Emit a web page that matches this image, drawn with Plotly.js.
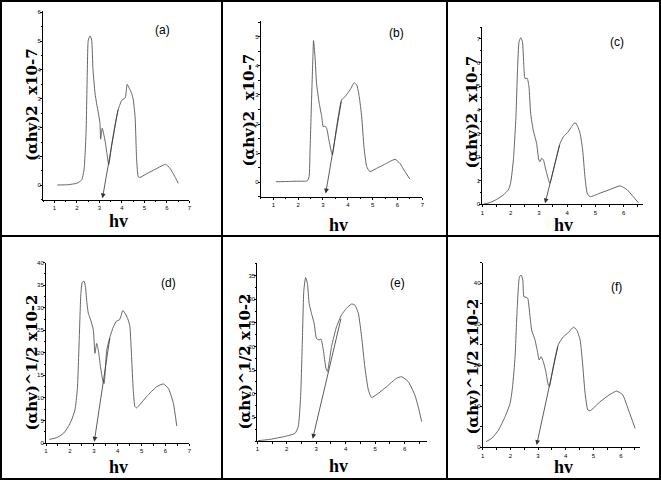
<!DOCTYPE html>
<html><head><meta charset="utf-8">
<script src="https://cdn.plot.ly/plotly-3.0.1.min.js"></script>
<style>html,body{margin:0;padding:0;background:#fff}</style>
</head><body><div id="chart" style="width:661px;height:480px"></div>
<script>
// Panel labels and axis titles
const panelLabels = ["(a)", "(b)", "(c)", "(d)", "(e)", "(f)"];
const yTitleTop = "(αhv)2  x10-7";
const yTitleBottom = "(αhv)^1/2 x10-2";
const xTitle = "hv";

// (a)
const xA = [1.13,1.6,2.0,2.21,2.32,2.41,2.47,2.51,2.59,2.66,2.72,2.81,2.88,2.96,3.03,3.06,3.13,3.25,3.34,3.42,3.55,3.7,3.85,4.0,4.1,4.16,4.24,4.34,4.44,4.51,4.59,4.66,4.73,4.8,5.1,5.5,5.84,5.95,6.14,6.36,6.51];
const yA = [0.01,0.02,0.07,0.18,0.53,1.8,4.1,5.04,5.18,5.04,4.0,3.2,2.84,2.5,2.15,1.6,1.98,1.57,1.1,0.72,1.4,2.1,2.65,2.95,3.0,3.05,3.5,3.35,3.19,2.96,2.38,0.88,0.3,0.27,0.4,0.56,0.7,0.73,0.59,0.3,0.07];
const tanA = {x: [3.84, 3.14], y: [2.67, -0.45]};
// (b)
const xB = [1.11,1.6,2.0,2.37,2.44,2.48,2.54,2.6,2.62,2.68,2.74,2.85,2.95,3.01,3.08,3.15,3.24,3.35,3.38,3.55,3.75,3.89,4.09,4.26,4.36,4.46,4.56,4.65,4.76,4.89,5.16,5.56,5.9,6.1,6.3,6.5];
const yB = [0.02,0.03,0.04,0.05,0.19,1.11,2.83,4.43,4.86,4.31,3.4,2.71,2.25,1.91,1.93,1.85,1.45,1.0,0.94,1.91,2.83,2.94,3.17,3.42,3.34,2.94,2.25,1.22,0.54,0.37,0.48,0.65,0.79,0.65,0.37,0.11];
const tanB = {x: [3.75, 3.11], y: [2.83, -0.38]};
// (c)
const xC = [1.04,1.27,1.51,1.74,1.92,2.0,2.1,2.19,2.25,2.3,2.36,2.42,2.47,2.51,2.59,2.65,2.71,2.8,2.92,3.0,3.04,3.1,3.16,3.25,3.36,3.39,3.57,3.75,3.87,4.04,4.16,4.28,4.37,4.46,4.55,4.63,4.71,4.81,5.16,5.52,5.87,6.11,6.34,6.52];
const yC = [0.01,0.07,0.21,0.39,0.61,0.89,1.88,3.71,5.83,6.88,7.05,6.88,5.83,5.33,5.33,4.98,3.85,3.15,2.58,1.88,1.8,1.95,1.88,1.45,0.96,0.89,1.73,2.58,2.86,3.07,3.29,3.46,3.31,3.0,2.3,1.17,0.47,0.32,0.47,0.63,0.78,0.63,0.32,0.07];
const tanC = {x: [3.75, 3.22], y: [2.58, 0.04]};
// (d)
const xD = [1.14,1.45,1.73,1.93,2.07,2.21,2.31,2.39,2.46,2.52,2.59,2.65,2.7,2.77,2.87,2.98,3.05,3.12,3.19,3.26,3.37,3.43,3.54,3.68,3.82,3.96,4.07,4.14,4.21,4.35,4.44,4.51,4.58,4.65,4.72,4.79,5.21,5.63,5.91,6.12,6.33,6.47];
const yD = [0.81,1.18,2.14,3.62,5.1,7.3,11.8,22.9,33.2,35.7,35.9,34.7,31.7,28.8,27.3,25.1,19.9,22.1,20.6,17.7,14.0,13.2,20.6,23.6,25.8,27.1,27.3,28.2,29.4,28.4,27.3,25.8,19.2,11.8,8.1,7.8,10.3,12.5,13.1,12.1,8.8,3.8];
const tanD = {x: [3.68, 3.02], y: [23.6, 0.3]};
// (e)
const xE = [1.03,1.43,2.0,2.28,2.39,2.47,2.53,2.58,2.64,2.7,2.76,2.84,2.93,3.01,3.1,3.16,3.24,3.33,3.38,3.52,3.69,3.86,4.03,4.2,4.31,4.43,4.54,4.65,4.77,4.88,5.11,5.39,5.73,5.9,6.12,6.35,6.46,6.58];
const yE = [0.07,0.35,1.06,1.62,3.03,9.38,21.4,31.9,34.6,33.4,29.1,27.0,24.9,21.7,21.4,21.6,19.3,15.4,14.7,20.0,24.2,26.7,28.1,29.0,28.8,27.0,22.1,15.7,10.8,9.2,10.1,11.5,13.3,13.6,12.6,9.7,7.3,4.1];
const tanE = {x: [3.85, 2.88], y: [26.2, 0.5]};
// (f)
const xF = [1.12,1.33,1.57,1.81,1.99,2.08,2.17,2.25,2.33,2.39,2.45,2.49,2.57,2.63,2.71,2.77,2.89,2.98,3.04,3.11,3.19,3.28,3.37,3.41,3.55,3.73,3.92,4.1,4.28,4.4,4.52,4.61,4.7,4.8,4.88,5.24,5.6,5.84,6.06,6.27,6.51];
const yF = [1.38,2.2,4.2,7.5,10.7,14.8,22.1,34.3,41.6,42.0,40.8,36.7,36.6,36.3,31.9,28.6,26.2,23.3,21.3,22.1,20.9,18.5,15.2,14.8,19.7,25.0,27.0,28.0,29.3,28.6,26.2,20.5,13.2,9.1,8.9,11.1,12.9,13.7,12.8,9.1,4.6];
const tanF = {x: [3.73, 2.95], y: [25.0, 0.57]};

// tick values
const xTicks7 = [1,2,3,4,5,6,7];
const xTicks6 = [1,2,3,4,5,6];
const yTicksA = [0,1,2,3,4,5,6];
const yTicksB = [0,1,2,3,4,5];
const yTicksC = [0,1,2,3,4,5,6,7];
const yTicksD = [0,5,10,15,20,25,30,35,40];
const yTicksE = [5,10,15,20,25,30,35];
const yTicksF = [0,10,20,30,40];

const W = 661, H = 480;
const px = v => v / W, py = v => 1 - v / H;

const panels = [
  {x: xA, y: yA, tan: tanA, xr: [0.5, 7], yr: [-0.5, 6.05], xt: xTicks7, yt: yTicksA, dom: [43.05, 189.3, 10.9, 199.7], lab: [162, 30], yt_pos: [32, 105], xt_pos: [118, 221], ytitle: yTitleTop, ymin: 0.5},
  {x: xB, y: yB, tan: tanB, xr: [0.5, 7], yr: [-0.5, 5.55], xt: xTicks7, yt: yTicksB, dom: [260.9, 422.3, 20.6, 196.9], lab: [396, 33], yt_pos: [248.5, 110], xt_pos: [338, 225], ytitle: yTitleTop, ymin: 0.5},
  {x: xC, y: yC, tan: tanC, xr: [1, 6.67], yr: [0, 7.5], xt: xTicks6, yt: yTicksC, dom: [482.3, 642.6, 27.1, 204.3], lab: [617, 42], yt_pos: [471.5, 112], xt_pos: [563, 225], ytitle: yTitleTop, ymin: 0.5},
  {x: xD, y: yD, tan: tanD, xr: [1, 7], yr: [0, 40], xt: xTicks7, yt: yTicksD, dom: [46, 189.4, 262.7, 443], lab: [168, 283], yt_pos: [31.5, 363], xt_pos: [118, 467], ytitle: yTitleBottom, ymin: 2.5},
  {x: xE, y: yE, tan: tanE, xr: [1, 6.75], yr: [0, 37.6], xt: xTicks6, yt: yTicksE, dom: [257.3, 426.7, 263.4, 441], lab: [397, 283], yt_pos: [244.5, 362], xt_pos: [338, 466], ytitle: yTitleBottom, ymin: 2.5},
  {x: xF, y: yF, tan: tanF, xr: [1, 6.7], yr: [0, 45], xt: xTicks6, yt: yTicksF, dom: [482.7, 640.4, 262.8, 447.3], lab: [616, 287], yt_pos: [472.5, 367], xt_pos: [563, 467], ytitle: yTitleBottom, ymin: 5}
];

const data = [];
const layout = {
  width: W, height: H, margin: {l: 0, r: 0, t: 0, b: 0},
  paper_bgcolor: '#fff', plot_bgcolor: 'rgba(0,0,0,0)', showlegend: false,
  annotations: [], shapes: []
};

const tickFont = {family: 'Liberation Sans Narrow, Arial, Liberation Sans, sans-serif', size: 6, color: '#000'};
const titleFamily = 'DejaVu Serif, Times New Roman, serif';

panels.forEach((p, i) => {
  const n = i + 1;
  const xa = n === 1 ? 'x' : 'x' + n, ya = n === 1 ? 'y' : 'y' + n;
  data.push({x: p.x, y: p.y, xaxis: xa, yaxis: ya, type: 'scatter', mode: 'lines',
    line: {color: '#555', width: 0.9, shape: 'spline', smoothing: 0.5}, hoverinfo: 'skip'});
  const axBase = {showgrid: false, zeroline: false, showline: true, linecolor: '#000', linewidth: 1,
    ticks: 'outside', ticklen: 2, tickwidth: 1, tickcolor: '#000', tickfont: tickFont, fixedrange: true};
  layout['xaxis' + (n === 1 ? '' : n)] = Object.assign({}, axBase, {
    domain: [px(p.dom[0]), px(p.dom[1])], range: p.xr, anchor: ya,
    tickmode: 'array', tickvals: p.xt, ticktext: p.xt.map(String),
    minor: {dtick: 0.5, ticks: 'outside', ticklen: 1.5, tickcolor: '#000'}
  });
  layout['yaxis' + (n === 1 ? '' : n)] = Object.assign({}, axBase, {
    domain: [py(p.dom[3]), py(p.dom[2])], range: p.yr, anchor: xa,
    tickmode: 'array', tickvals: p.yt, ticktext: p.yt.map(String), ticklabelstandoff: -2,
    minor: {dtick: p.ymin, ticks: 'outside', ticklen: 1.5, tickcolor: '#000'}
  });
  // tangent line with arrowhead at intercept
  layout.annotations.push({xref: xa, yref: ya, axref: xa, ayref: ya,
    x: p.tan.x[1], y: p.tan.y[1], ax: p.tan.x[0], ay: p.tan.y[0],
    text: '', showarrow: true, arrowhead: 2, arrowsize: 1.2, arrowwidth: 0.8, arrowcolor: '#333'});
  // panel label
  layout.annotations.push({xref: 'paper', yref: 'paper', x: px(p.lab[0]), y: py(p.lab[1]),
    text: panelLabels[i], showarrow: false, xanchor: 'center', yanchor: 'middle',
    font: {family: 'Liberation Sans Narrow, Arial, sans-serif', size: 12, color: '#000'}});
  // y title
  layout.annotations.push({xref: 'paper', yref: 'paper', x: px(p.yt_pos[0]), y: py(p.yt_pos[1]),
    text: p.ytitle, showarrow: false, textangle: -90, xanchor: 'center', yanchor: 'middle',
    font: {family: titleFamily, size: 15, color: '#000', weight: 'bold'}});
  // x title
  layout.annotations.push({xref: 'paper', yref: 'paper', x: px(p.xt_pos[0]), y: py(p.xt_pos[1]),
    text: xTitle, showarrow: false, xanchor: 'center', yanchor: 'middle',
    font: {family: 'Liberation Serif, Times New Roman, serif', size: 18, color: '#000', weight: 'bold'}});
});

// frame
const frameLine = {color: '#000', width: 2};
layout.shapes.push({type: 'rect', xref: 'paper', yref: 'paper', x0: px(1), x1: px(660), y0: py(479), y1: py(1), line: frameLine});
layout.shapes.push({type: 'line', xref: 'paper', yref: 'paper', x0: px(222), x1: px(222), y0: 0, y1: 1, line: frameLine});
layout.shapes.push({type: 'line', xref: 'paper', yref: 'paper', x0: px(447), x1: px(447), y0: 0, y1: 1, line: frameLine});
layout.shapes.push({type: 'line', xref: 'paper', yref: 'paper', x0: 0, x1: 1, y0: py(236), y1: py(236), line: frameLine});

Plotly.newPlot('chart', data, layout, {staticPlot: true, displayModeBar: false});
</script></body></html>
